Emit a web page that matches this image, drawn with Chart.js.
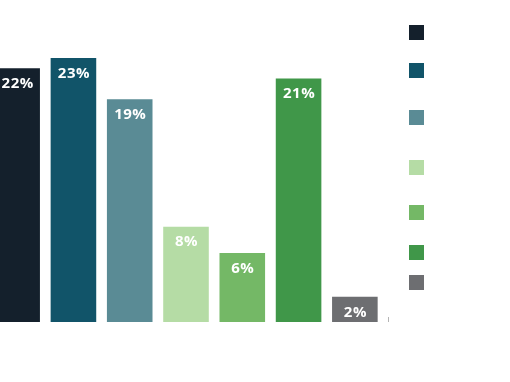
<!DOCTYPE html>
<html>
<head>
<meta charset="utf-8">
<script src="https://cdn.jsdelivr.net/npm/chart.js@4/dist/chart.umd.min.js"></script>
<style>
  html, body { margin: 0; padding: 0; background: #ffffff; width: 510px; height: 382px; overflow: hidden; position: relative; }
  #wrap { position: absolute; left: -11px; top: 0; width: 404px; height: 322px; }
  #legend { position: absolute; left: 409px; top: 25px; }
  .sw { width: 15px; height: 15px; }
</style>
</head>
<body>
<div id="wrap"><canvas id="c"></canvas></div>
<div id="legend"></div>
<script>
// Data
const categories = ["A", "B", "C", "D", "E", "F", "G"];
const values = [22.1, 23.0, 19.4, 8.3, 6.0, 21.2, 2.2];
const barColors = ["#14202c", "#115469", "#5a8b95", "#b5dca5", "#74b866", "#409749", "#6d6e71"];
// vertical gaps between legend swatches (layout)
const legendGaps = [0, 23, 32, 35, 30, 25, 15];

const legend = document.getElementById('legend');
barColors.forEach((col, i) => {
  const d = document.createElement('div');
  d.className = 'sw';
  d.style.background = col;
  d.style.marginTop = legendGaps[i] + 'px';
  legend.appendChild(d);
});

const labelPlugin = {
  id: 'barLabels',
  afterDatasetsDraw(chart) {
    const ctx = chart.ctx;
    const meta = chart.getDatasetMeta(0);
    ctx.save();
    ctx.fillStyle = '#ffffff';
    ctx.font = 'bold 15px "Open Sans"';
    ctx.letterSpacing = '0.5px';
    ctx.textAlign = 'center';
    ctx.textBaseline = 'middle';
    meta.data.forEach((bar, i) => {
      ctx.fillText(Math.round(values[i]) + '%', bar.x + 0.5, bar.y + 15.5);
    });
    // small axis tick mark just right of the baseline end
    const a = chart.chartArea;
    ctx.strokeStyle = '#b4b4b4';
    ctx.lineWidth = 1;
    ctx.beginPath();
    ctx.moveTo(a.right + 5.5, a.bottom - 5);
    ctx.lineTo(a.right + 5.5, a.bottom);
    ctx.stroke();
    ctx.restore();
  }
};

new Chart(document.getElementById('c'), {
  type: 'bar',
  data: {
    labels: categories,
    datasets: [{
      data: values,
      backgroundColor: barColors,
      borderWidth: 0,
      categoryPercentage: 0.9,
      barPercentage: 0.9
    }]
  },
  options: {
    responsive: true,
    maintainAspectRatio: false,
    animation: false,
    layout: { padding: { top: 35, bottom: 0, left: 0, right: 10 } },
    plugins: { legend: { display: false }, tooltip: { enabled: false } },
    scales: {
      x: { display: false },
      y: { display: false, min: 0, max: 25 }
    }
  },
  plugins: [labelPlugin]
});
</script>
</body>
</html>
